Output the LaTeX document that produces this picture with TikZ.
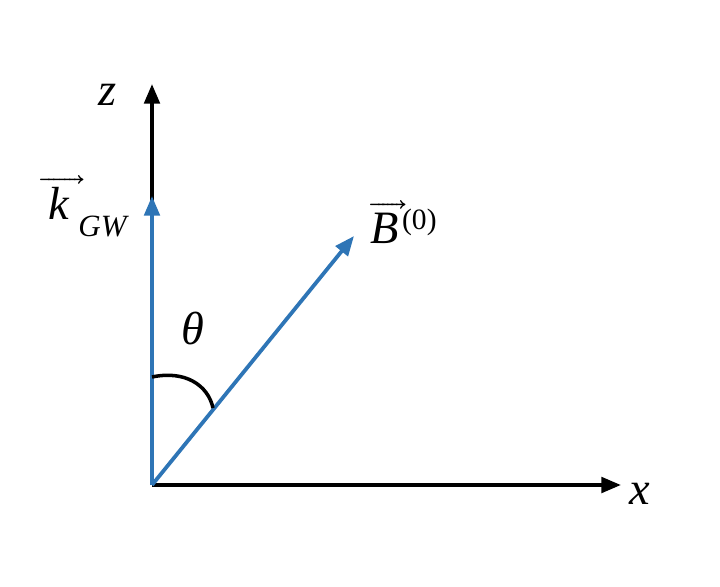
\documentclass[tikz,border=0pt]{standalone}
\usepackage{fontspec}
\usepackage{unicode-math}
\setmainfont{Liberation Serif}
\usetikzlibrary{arrows.meta}
\definecolor{bl}{RGB}{46,117,182}
\begin{document}
\begin{tikzpicture}[x=0.025cm,y=-0.025cm,
  ax/.style={line width=2.7pt,-{Triangle[length=14pt,width=11pt]}},
  lbl/.style={font=\fontsize{33}{36}\selectfont\itshape}]
\useasboundingbox (0,0) rectangle (720,586);
\coordinate (O) at (152,485);
\coordinate (Z) at (152,84);
\coordinate (X) at (621,485);
\coordinate (K) at (152,196);
\coordinate (B) at (354,236);
\draw[ax] (O) -- (Z);
\draw[ax] (O) -- (X);
\draw[ax,bl] (O) -- (K);
\draw[ax,bl] (O) -- (B);
\draw[line width=2.5pt] (152,377) .. controls (185,370) and (208,385) .. (213,408);
\node[lbl] (zl) at (108,95) {z};
\node[lbl] (xl) at (640,494) {x};
\node[lbl] (th) at (193,328) {θ};
\node[lbl,anchor=west,inner sep=0pt] (kl) at (40,206) {$\overrightarrow{\hbox{\itshape\,k\,\,}}$\hspace{-4pt}\raisebox{-12pt}{\fontsize{22}{24}\selectfont\itshape GW}};
\node[lbl,anchor=west,inner sep=0pt] (bl) at (370,222) {$\overrightarrow{\hbox{\itshape B\,}}$\hspace{-3pt}\raisebox{10pt}{\fontsize{21}{22}\selectfont\upshape (0)}};
\end{tikzpicture}
\end{document}
